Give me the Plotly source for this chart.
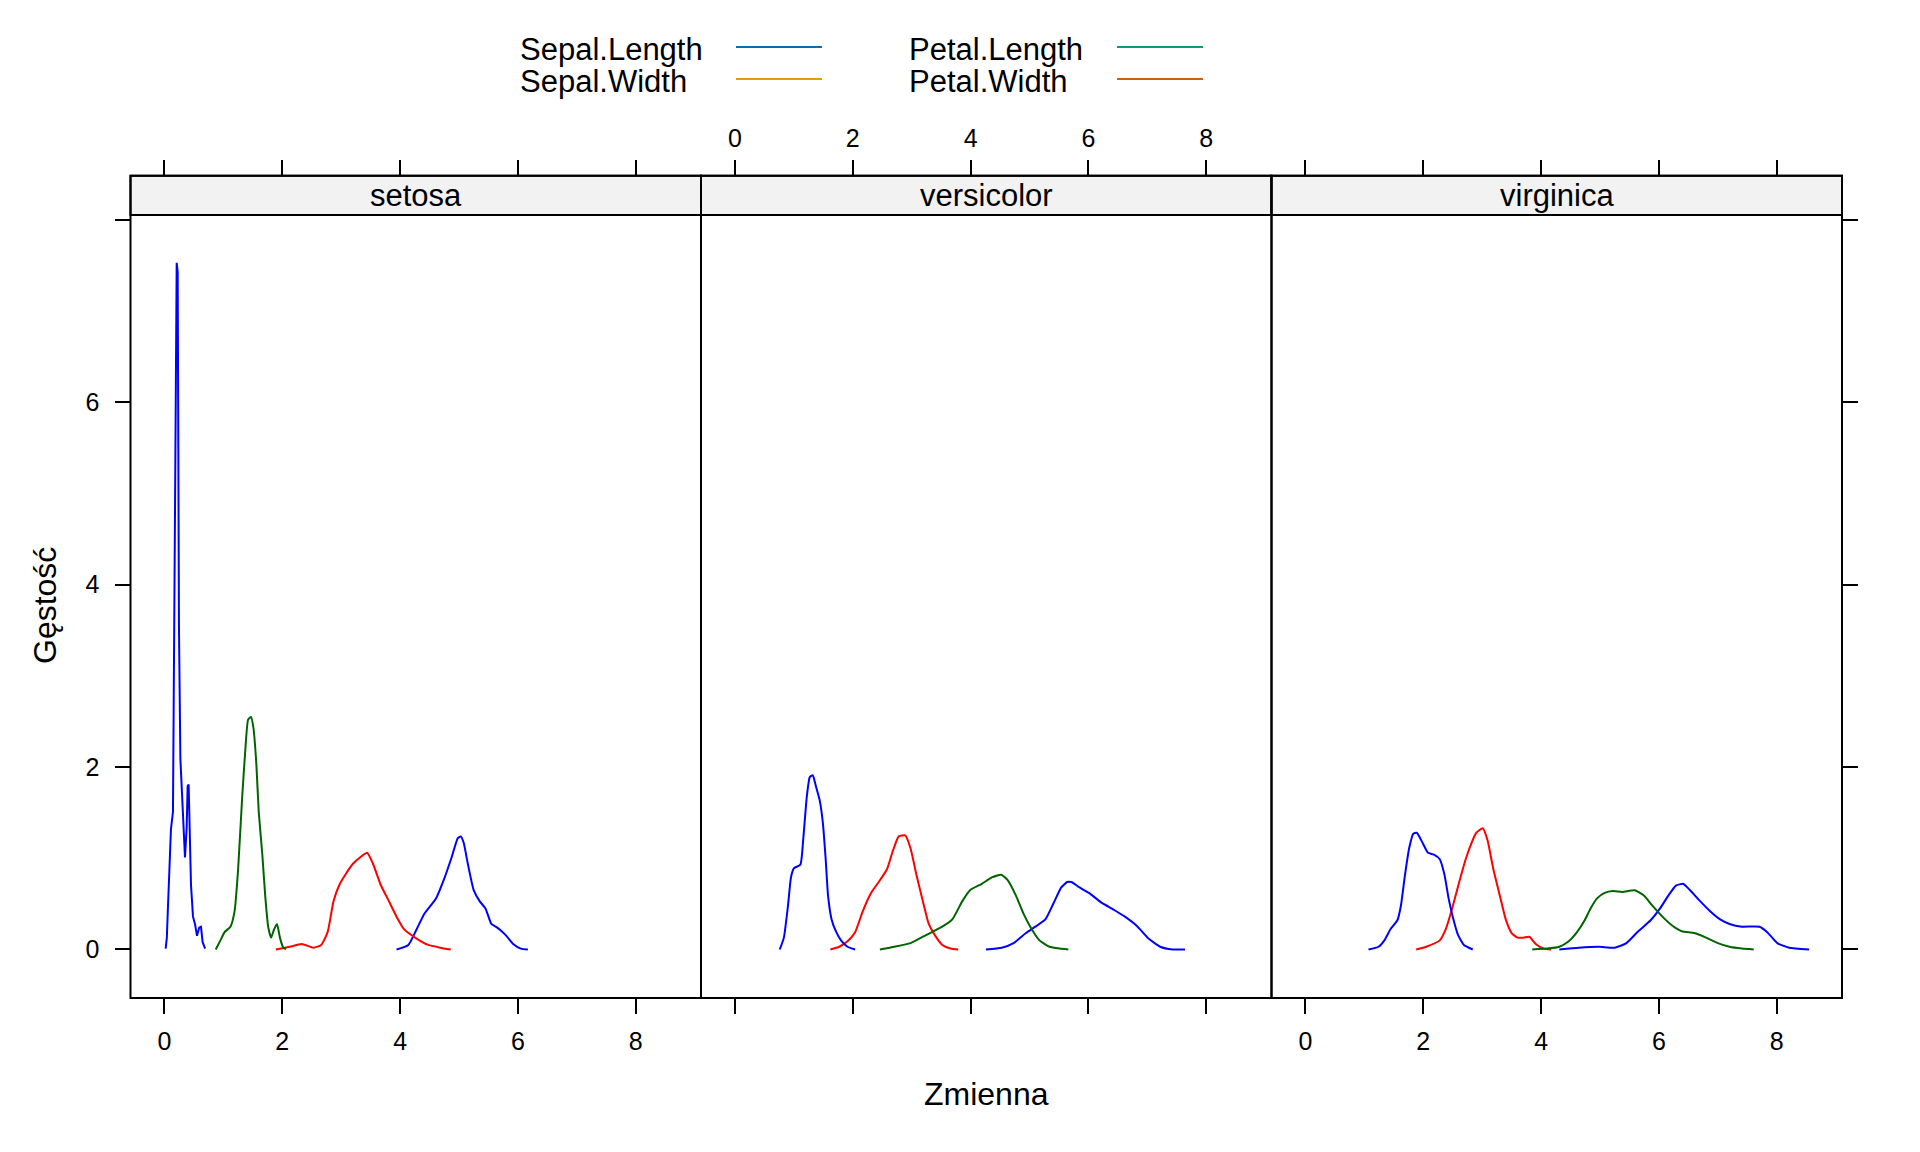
import plotly.graph_objects as go

# density curves (x = value, y = density)
species = ["setosa", "versicolor", "virginica"]

setosa_sl_x = [3.94, 4.14, 4.28, 4.41, 4.61, 4.74, 4.88, 4.98, 5.03, 5.08, 5.15, 5.25, 5.35, 5.45, 5.55, 5.65, 5.79, 5.92, 6.05, 6.17]
setosa_sl_y = [0.0, 0.05, 0.22, 0.39, 0.56, 0.76, 1.02, 1.22, 1.24, 1.17, 0.94, 0.65, 0.53, 0.45, 0.28, 0.24, 0.16, 0.06, 0.01, 0.0]
setosa_sw_x = [1.89, 2.13, 2.33, 2.53, 2.66, 2.77, 2.87, 2.97, 3.07, 3.20, 3.34, 3.44, 3.54, 3.67, 3.81, 3.94, 4.07, 4.28, 4.48, 4.68, 4.86]
setosa_sw_y = [0.0, 0.03, 0.06, 0.02, 0.05, 0.19, 0.53, 0.71, 0.82, 0.94, 1.02, 1.06, 0.94, 0.71, 0.53, 0.36, 0.22, 0.12, 0.05, 0.02, 0.0]
setosa_pl_x = [0.87, 0.95, 1.02, 1.12, 1.19, 1.25, 1.32, 1.38, 1.42, 1.47, 1.51, 1.56, 1.60, 1.66, 1.71, 1.76, 1.81, 1.86, 1.91, 1.96, 2.01, 2.06]
setosa_pl_y = [0.0, 0.10, 0.19, 0.25, 0.42, 0.88, 1.68, 2.26, 2.52, 2.55, 2.43, 2.03, 1.51, 1.05, 0.59, 0.25, 0.13, 0.22, 0.28, 0.13, 0.03, 0.0]
setosa_pw_x = [0.02, 0.04, 0.054, 0.076, 0.088, 0.11, 0.144, 0.156, 0.178, 0.19, 0.207, 0.224, 0.235, 0.246, 0.27, 0.29, 0.326, 0.348, 0.377, 0.393, 0.41, 0.427, 0.45, 0.484, 0.518, 0.552, 0.59, 0.62, 0.648, 0.69]
setosa_pw_y = [0.01, 0.13, 0.38, 0.76, 1.15, 1.32, 1.51, 2.70, 4.94, 6.92, 7.53, 7.43, 5.87, 3.53, 2.09, 1.84, 1.39, 1.01, 1.34, 1.79, 1.81, 1.29, 0.71, 0.36, 0.28, 0.15, 0.24, 0.25, 0.08, 0.01]

versicolor_sl_x = [4.26, 4.53, 4.73, 4.94, 5.10, 5.27, 5.41, 5.54, 5.64, 5.71, 5.85, 6.01, 6.21, 6.42, 6.62, 6.82, 7.02, 7.22, 7.43, 7.64]
versicolor_sl_y = [0.0, 0.02, 0.07, 0.18, 0.25, 0.33, 0.51, 0.68, 0.74, 0.74, 0.68, 0.62, 0.52, 0.44, 0.36, 0.26, 0.12, 0.03, 0.0, 0.0]
versicolor_sw_x = [1.62, 1.77, 1.91, 2.04, 2.17, 2.31, 2.44, 2.58, 2.68, 2.78, 2.89, 2.98, 3.08, 3.19, 3.29, 3.39, 3.52, 3.66, 3.79]
versicolor_sw_y = [0.0, 0.03, 0.09, 0.19, 0.42, 0.62, 0.74, 0.88, 1.08, 1.24, 1.25, 1.11, 0.82, 0.53, 0.28, 0.16, 0.05, 0.01, 0.0]
versicolor_pl_x = [2.46, 2.71, 2.98, 3.25, 3.52, 3.69, 3.86, 3.99, 4.19, 4.36, 4.52, 4.63, 4.77, 4.90, 5.03, 5.17, 5.34, 5.51, 5.66]
versicolor_pl_y = [0.0, 0.03, 0.07, 0.16, 0.25, 0.33, 0.53, 0.65, 0.72, 0.79, 0.82, 0.76, 0.59, 0.39, 0.23, 0.10, 0.03, 0.01, 0.0]
versicolor_pw_x = [0.76, 0.83, 0.90, 0.95, 1.00, 1.11, 1.16, 1.22, 1.27, 1.32, 1.37, 1.44, 1.49, 1.54, 1.58, 1.64, 1.72, 1.80, 1.91, 2.04]
versicolor_pw_y = [0.0, 0.13, 0.48, 0.79, 0.89, 0.93, 1.22, 1.68, 1.89, 1.91, 1.80, 1.63, 1.40, 0.99, 0.59, 0.33, 0.19, 0.10, 0.03, 0.0]

virginica_sl_x = [4.31, 4.64, 4.98, 5.25, 5.45, 5.65, 5.86, 6.02, 6.16, 6.29, 6.41, 6.53, 6.70, 6.87, 7.04, 7.20, 7.41, 7.71, 7.84, 8.01, 8.21, 8.55]
virginica_sl_y = [0.0, 0.02, 0.03, 0.02, 0.07, 0.20, 0.32, 0.45, 0.59, 0.70, 0.72, 0.65, 0.53, 0.42, 0.33, 0.28, 0.25, 0.25, 0.19, 0.07, 0.02, 0.0]
virginica_sw_x = [1.88, 2.05, 2.28, 2.38, 2.49, 2.61, 2.72, 2.82, 2.90, 3.01, 3.09, 3.19, 3.30, 3.40, 3.50, 3.60, 3.70, 3.80, 3.91, 4.04, 4.17]
virginica_sw_y = [0.0, 0.03, 0.10, 0.22, 0.45, 0.74, 0.99, 1.17, 1.28, 1.33, 1.20, 0.88, 0.59, 0.33, 0.18, 0.13, 0.13, 0.14, 0.06, 0.01, 0.0]
virginica_pl_x = [3.85, 4.10, 4.31, 4.47, 4.61, 4.74, 4.84, 4.95, 5.08, 5.22, 5.38, 5.59, 5.75, 5.89, 6.06, 6.23, 6.39, 6.60, 6.80, 7.00, 7.20, 7.41, 7.61]
virginica_pl_y = [0.0, 0.01, 0.03, 0.09, 0.19, 0.32, 0.45, 0.56, 0.62, 0.64, 0.63, 0.65, 0.59, 0.48, 0.36, 0.26, 0.20, 0.18, 0.13, 0.07, 0.03, 0.01, 0.0]
virginica_pw_x = [1.07, 1.24, 1.34, 1.44, 1.56, 1.62, 1.69, 1.76, 1.83, 1.89, 1.98, 2.08, 2.18, 2.28, 2.36, 2.43, 2.50, 2.59, 2.69, 2.84]
virginica_pw_y = [0.0, 0.03, 0.10, 0.22, 0.32, 0.48, 0.82, 1.11, 1.27, 1.28, 1.18, 1.06, 1.04, 0.99, 0.82, 0.56, 0.36, 0.16, 0.05, 0.0]

variables = ["Sepal.Length", "Sepal.Width", "Petal.Length", "Petal.Width"]
line_cols = ["#0000FF", "#FF0000", "#006400", "#0000FF"]
legend_cols = ["#0072B2", "#E69F00", "#009E73", "#D55E00"]

xticks = [0, 2, 4, 6, 8]
yticks = [0, 2, 4, 6, 8]
ytick_text = ["0", "2", "4", "6", ""]

curves = {
    "setosa": [(setosa_sl_x, setosa_sl_y), (setosa_sw_x, setosa_sw_y),
               (setosa_pl_x, setosa_pl_y), (setosa_pw_x, setosa_pw_y)],
    "versicolor": [(versicolor_sl_x, versicolor_sl_y), (versicolor_sw_x, versicolor_sw_y),
                   (versicolor_pl_x, versicolor_pl_y), (versicolor_pw_x, versicolor_pw_y)],
    "virginica": [(virginica_sl_x, virginica_sl_y), (virginica_sw_x, virginica_sw_y),
                  (virginica_pl_x, virginica_pl_y), (virginica_pw_x, virginica_pw_y)],
}

W, H = 1920, 1152
OFF = 8  # page body margin
FONT = "Liberation Sans, Arial, sans-serif"

# panel geometry in pixels (screenshot coords)
px_left = [130.5, 701.0, 1271.5]
px_w = 570.5
top_px, strip_px, bot_px = 175.7, 215.0, 998.0

def fx(p):
    return (p - OFF) / W

def fy(p):
    return 1 - (p - OFF) / H

fig = go.Figure()

for i, sp in enumerate(species):
    n = "" if i == 0 else str(i + 1)
    for j, (xs, ys) in enumerate(curves[sp]):
        # the narrow setosa petal width spike is drawn straight, the rest smoothed
        if sp == "setosa" and j == 3:
            ln = dict(color=line_cols[j], width=2)
        else:
            ln = dict(color=line_cols[j], width=2, shape="spline", smoothing=0.5)
        fig.add_trace(go.Scatter(
            x=xs, y=ys, mode="lines", line=ln,
            xaxis="x" + n, yaxis="y" + n, showlegend=False, hoverinfo="skip"))

xr = [-0.577, 9.109]
yr = [-0.532, 8.485]

lay = dict(width=W, height=H, margin=dict(l=0, r=0, t=0, b=0),
           plot_bgcolor="white", paper_bgcolor="white",
           font=dict(family=FONT, color="black", size=25), showlegend=False)

for i, sp in enumerate(species):
    n = "" if i == 0 else str(i + 1)
    dom = [fx(px_left[i]), fx(px_left[i] + px_w)]
    lay["xaxis" + n] = dict(
        domain=dom, range=xr, anchor="y" + n, tickvals=xticks,
        side="top" if i == 1 else "bottom", mirror="ticks",
        ticks="outside", ticklen=15, tickwidth=2, tickcolor="black",
        showgrid=False, zeroline=False, showline=False,
        tickfont=dict(size=25), ticklabelstandoff=3 if i == 1 else 6)
    lay["yaxis" + n] = dict(
        domain=[fy(bot_px), fy(top_px)], range=yr, anchor="x" + n,
        tickvals=yticks, ticktext=ytick_text,
        side="right" if i == 2 else "left",
        ticks="outside" if i != 1 else "", ticklen=15, tickwidth=2, tickcolor="black",
        showticklabels=(i == 0), showgrid=False, zeroline=False, showline=False,
        tickfont=dict(size=25), ticklabelstandoff=10)

fig.update_layout(**lay)

shapes = []
annots = []
for i, sp in enumerate(species):
    x0, x1 = fx(px_left[i]), fx(px_left[i] + px_w)
    shapes.append(dict(type="rect", xref="paper", yref="paper", x0=x0, x1=x1,
                       y0=fy(strip_px), y1=fy(top_px), fillcolor="#F2F2F2",
                       line=dict(color="black", width=2), layer="below"))
    shapes.append(dict(type="rect", xref="paper", yref="paper", x0=x0, x1=x1,
                       y0=fy(bot_px), y1=fy(top_px), line=dict(color="black", width=2)))
    annots.append(dict(text=sp, xref="paper", yref="paper", x=(x0 + x1) / 2, y=fy(196),
                       showarrow=False, xanchor="center", yanchor="middle",
                       font=dict(size=31)))

# legend key at the top
leg_text_x = [518, 518, 907, 907]
leg_line_x = [(736, 822), (736, 822), (1117, 1203), (1117, 1203)]
leg_y = [47, 79, 47, 79]
for k, v in enumerate(variables):
    annots.append(dict(text=v, xref="paper", yref="paper", x=fx(leg_text_x[k]), y=fy(leg_y[k] + 2),
                       showarrow=False, xanchor="left", yanchor="middle", font=dict(size=31)))
    shapes.append(dict(type="line", xref="paper", yref="paper",
                       x0=fx(leg_line_x[k][0]), x1=fx(leg_line_x[k][1]),
                       y0=fy(leg_y[k]), y1=fy(leg_y[k]),
                       line=dict(color=legend_cols[k], width=2)))

annots.append(dict(text="Zmienna", xref="paper", yref="paper", x=fx(986), y=fy(1094),
                   showarrow=False, xanchor="center", yanchor="middle", font=dict(size=32)))
annots.append(dict(text="Gęstość", xref="paper", yref="paper", x=fx(45), y=fy(606),
                   showarrow=False, xanchor="center", yanchor="middle", textangle=-90,
                   font=dict(size=32)))

fig.update_layout(shapes=shapes, annotations=annots)
fig.write_html("out.html")
